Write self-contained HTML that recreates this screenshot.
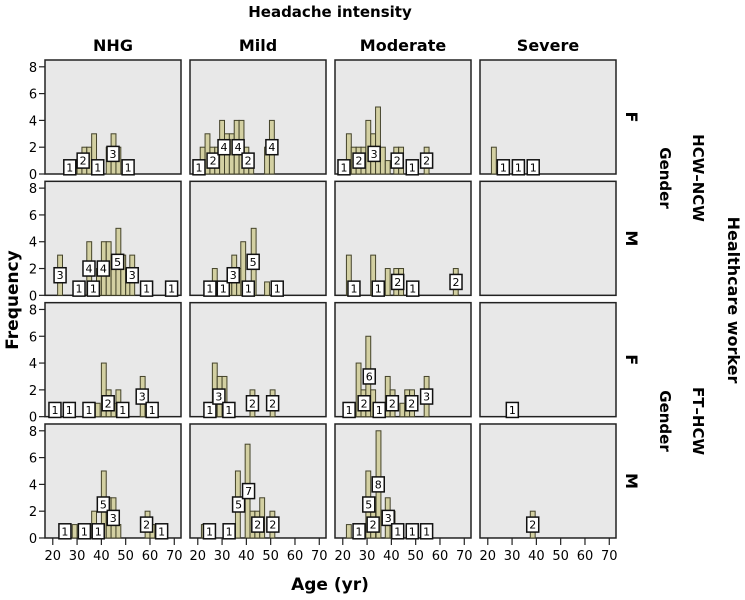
<!DOCTYPE html>
<html><head><meta charset="utf-8"><style>
body{margin:0;background:#fff;width:745px;height:595px;overflow:hidden}
svg{font-family:"DejaVu Sans","Liberation Sans",sans-serif}
</style></head><body>
<svg id="chart" width="745" height="595" xmlns="http://www.w3.org/2000/svg"></svg>
<script>
const colNames = ["NHG","Mild","Moderate","Severe"];
const rowNames = ["F","M","F","M"];
const yTicks = [0,2,4,6,8];
const xTicks = [20,30,40,50,60,70];
// bars: [age center, count]; labels: [age, value]
const r1c1Bars=[[27,1],[31,1],[33,2],[35,2],[37,3],[39,1],[43,2],[45,3],[47,2],[51,1]];
const r1c1Labels=[[27,1],[32.5,2],[38.5,1],[44.8,3],[51,1]];
const r1c2Bars=[[20,1],[22,2],[24,3],[26,2],[28,2],[30,4],[32,3],[34,3],[36,4],[38,4],[40,2],[42,1],[48.5,2],[50.5,4]];
const r1c2Labels=[[20.5,1],[26.3,2],[30.8,4],[36.6,4],[40.7,2],[50.5,4]];
const r1c3Bars=[[20.5,1],[22.5,3],[24.5,2],[26.5,2],[28.5,2],[30.5,4],[32.5,3],[34.5,5],[36.5,2],[38.5,1],[42,2],[44,2],[48.5,1],[54.5,2]];
const r1c3Labels=[[20.5,1],[26.7,2],[32.9,3],[42.4,2],[48.6,1],[54.5,2]];
const r1c4Bars=[[22.5,2],[26.4,1],[32.6,1],[38.7,1]];
const r1c4Labels=[[26.4,1],[32.6,1],[38.7,1]];
const r2c1Bars=[[23,3],[31,1],[35,4],[37,1],[39,2],[41,4],[43,4],[45,3],[47,5],[49,3],[51,2],[52.7,3],[59,1],[69,1]];
const r2c1Labels=[[23,3],[30.8,1],[34.9,4],[36.7,1],[40.8,4],[46.7,5],[52.7,3],[58.6,1],[68.9,1]];
const r2c2Bars=[[25,1],[27,2],[31,1],[33,2],[35,3],[37,2],[38.7,4],[41,1],[43,5],[48.5,1],[53,1]];
const r2c2Labels=[[25,1],[30.5,1],[34.6,3],[40.8,1],[42.8,5],[52.7,1]];
const r2c3Bars=[[22.5,3],[24.6,1],[32.5,3],[34.6,1],[38.5,2],[42,2],[44,2],[48.8,1],[66.5,2]];
const r2c3Labels=[[24.6,1],[34.6,1],[42.6,2],[48.8,1],[66.6,2]];
const r2c4Bars=[];
const r2c4Labels=[];
const r3c1Bars=[[21,1],[27,1],[35,1],[38.5,1],[41,4],[43,2],[45,1],[47,2],[49,1],[57,3],[59,1],[61,1]];
const r3c1Labels=[[20.9,1],[26.8,1],[34.9,1],[42.8,2],[48.8,1],[56.8,3],[60.9,1]];
const r3c2Bars=[[25,1],[27,4],[29,3],[31,3],[33,1],[42.5,2],[50.8,2]];
const r3c2Labels=[[25,1],[28.7,3],[32.8,1],[42.5,2],[50.8,2]];
const r3c3Bars=[[22.6,1],[24.5,1],[26.5,4],[28.5,2],[30.5,6],[32.5,2],[34.5,1],[38.5,3],[40.5,2],[44.5,1],[46.5,2],[48.5,2],[54.5,3]];
const r3c3Labels=[[22.6,1],[28.8,2],[30.9,6],[35,1],[40.4,2],[48.4,2],[54.5,3]];
const r3c4Bars=[[30.1,1]];
const r3c4Labels=[[30.1,1]];
const r4c1Bars=[[25,1],[29,1],[33,1],[37,2],[39,1],[41,5],[43,3],[45,3],[47,1],[59,2],[61,1],[65,1]];
const r4c1Labels=[[25,1],[33,1],[38.7,1],[40.8,5],[44.9,3],[58.6,2],[64.8,1]];
const r4c2Bars=[[22.5,1],[24.8,1],[32.9,1],[36.5,5],[40.5,7],[42.5,2],[44.5,2],[46.5,3],[50.7,2]];
const r4c2Labels=[[24.8,1],[32.9,1],[36.8,5],[40.9,7],[44.7,2],[50.9,2]];
const r4c3Bars=[[22.5,1],[26.6,1],[30.5,5],[32.5,2],[34.7,8],[38.5,3],[40.5,2],[42.6,1],[48.6,1],[54.5,1]];
const r4c3Labels=[[26.7,1],[30.7,5],[32.5,2],[34.6,8],[38.7,3],[42.6,1],[48.6,1],[54.5,1]];
const r4c4Bars=[[38.5,2]];
const r4c4Labels=[[38.5,2]];

const barsGrid=[[r1c1Bars,r1c2Bars,r1c3Bars,r1c4Bars],[r2c1Bars,r2c2Bars,r2c3Bars,r2c4Bars],[r3c1Bars,r3c2Bars,r3c3Bars,r3c4Bars],[r4c1Bars,r4c2Bars,r4c3Bars,r4c4Bars]];
const labelsGrid=[[r1c1Labels,r1c2Labels,r1c3Labels,r1c4Labels],[r2c1Labels,r2c2Labels,r2c3Labels,r2c4Labels],[r3c1Labels,r3c2Labels,r3c3Labels,r3c4Labels],[r4c1Labels,r4c2Labels,r4c3Labels,r4c4Labels]];

const svg=document.getElementById('chart');
const NS="http://www.w3.org/2000/svg";
function mk(tag,attrs,parent){const e=document.createElementNS(NS,tag);for(const k in attrs)e.setAttribute(k,attrs[k]);(parent||svg).appendChild(e);return e;}
const PW=136,PH=114;
function panelLeft(c){return 45+c*145;}
function panelTop(r){return 60+r*121.33;}
function xs(c,a){return panelLeft(c)+(a-16.8)*2.43;}
function ys(r,v){return panelTop(r)+PH-v*13.4;}

function txt(x,y,s,size,extra){const t=mk('text',Object.assign({x:x,y:y,'font-size':size,'text-anchor':'middle'},extra||{}));t.textContent=s;return t;}

let e;
e=txt(330,17,"Headache intensity",15,{'font-weight':'bold'});


e=txt(330,590,"Age (yr)",17,{'font-weight':'bold'});


e=txt(0,0,"Frequency",17,{'font-weight':'bold',transform:'translate(18,300) rotate(-90)'});


e=txt(0,0,"Healthcare worker",16,{'font-weight':'bold',transform:'translate(728,300) rotate(90)'});


e=txt(0,0,"HCW–NCW",15,{'font-weight':'bold',transform:'translate(693,178) rotate(90)'});


e=txt(0,0,"Gender",15,{'font-weight':'bold',transform:'translate(660,178) rotate(90)'});


e=txt(0,0,"FT–HCW",15,{'font-weight':'bold',transform:'translate(693,421) rotate(90)'});


e=txt(0,0,"Gender",15,{'font-weight':'bold',transform:'translate(660,421) rotate(90)'});



for(let c=0;c<4;c++){
  e=txt(panelLeft(c)+PW/2,51,colNames[c],16,{'font-weight':'bold'});
  
  
}
for(let r=0;r<4;r++){
  e=txt(0,0,rowNames[r],16,{'font-weight':'bold',transform:'translate(626,'+(panelTop(r)+PH/2)+') rotate(90)'});
  
  
  for(const v of yTicks){
    const y=ys(r,v);
    e=mk('line',{x1:39,x2:45,y1:y,y2:y,stroke:'#222','stroke-width':1.2});
    
    
    e=txt(33,y+5,String(v),13);
    
    
  }
  for(let c=0;c<4;c++){
    e=mk('rect',{x:panelLeft(c),y:panelTop(r),width:PW,height:PH,fill:'#e8e8e8',stroke:'#222','stroke-width':1.5});
    
    
    for(const b of barsGrid[r][c]){
      const x=xs(c,b[0]-1),w=2*2.43;
      e=mk('rect',{x:x,y:ys(r,b[1]),width:w,height:b[1]*13.4,fill:'#d3d0a2',stroke:'#44432a','stroke-width':1});
      
      
    }
    for(const l of labelsGrid[r][c]){
      const cx=xs(c,l[0]),cy=ys(r,l[1]/2);
      e=mk('rect',{x:cx-6,y:cy-7.5,width:12,height:15,fill:'#fff',stroke:'#111','stroke-width':1.5});
      
      
      e=txt(cx,cy+4,String(l[1]),11);
      
      
    }
  }
}
const yb=panelTop(3)+PH;
for(let c=0;c<4;c++){
  for(const a of xTicks){
    const x=xs(c,a);
    e=mk('line',{x1:x,x2:x,y1:yb,y2:yb+7,stroke:'#222','stroke-width':1.2});
    
    
    e=txt(x,yb+22,String(a),13);
    
    
  }
}
</script>
</body></html>
